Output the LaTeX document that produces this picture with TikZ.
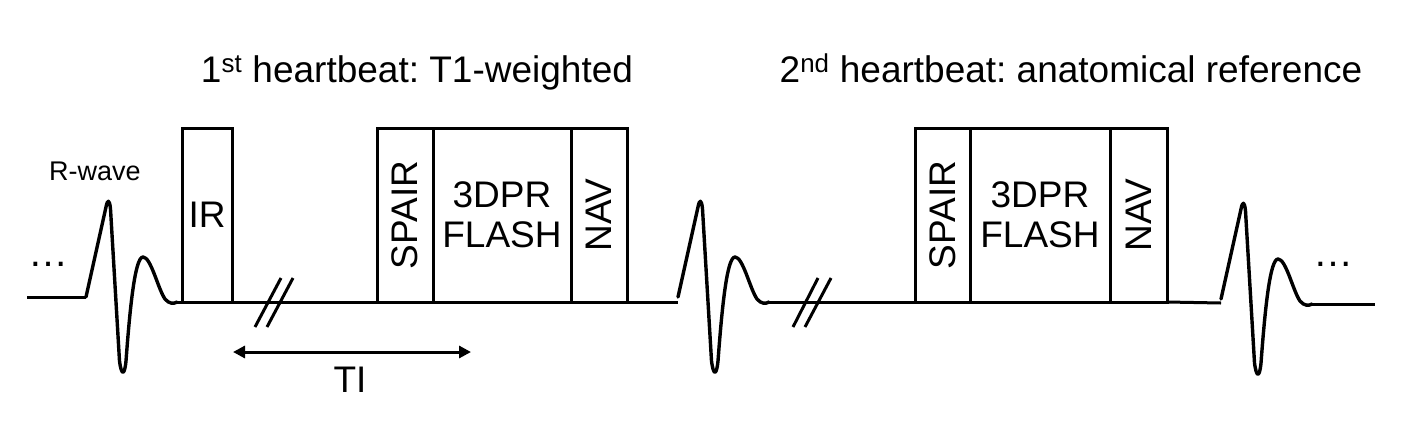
\documentclass[tikz,border=0pt]{standalone}
\usepackage{fontspec}
\setmainfont{Liberation Sans}
\usetikzlibrary{arrows.meta}
\begin{document}
\frenchspacing
\begin{tikzpicture}[x=1pt,y=-1pt,
  wire/.style={line width=3pt},
  seqbox/.style={draw, line width=3pt, minimum height=174pt, inner sep=0pt, outer sep=0pt, anchor=south west},
  boxtext/.style={font=\fontsize{37}{40}\selectfont, inner sep=0pt, align=center},
  title/.style={font=\fontsize{37}{40}\selectfont, inner sep=0pt, anchor=base},
  dots/.style={font=\fontsize{40}{44}\selectfont, inner sep=0pt, anchor=base},
  ecg/.pic={
    \draw[line width=3.4pt, line join=round, line cap=round]
      (0,0) -- (20,-90) .. controls (21.5,-98) and (23.5,-98) .. (24.5,-88)
      -- (33.5,64) .. controls (35.5,79) and (38.5,79) .. (40,64)
      .. controls (44,10) and (49,-40) .. (57,-40)
      .. controls (65,-40) and (72,-8) .. (79,2)
      .. controls (83,7) and (88,7) .. (91,5);
  }
]
\useasboundingbox (0,0) rectangle (1415,426);

% titles
\node[title] (t1) at (417,82) {1\textsuperscript{st} heartbeat: T1-weighted};
\node[title] (t2) at (1071,82) {2\textsuperscript{nd} heartbeat: anatomical reference};

% R-wave label and dots
\node[font=\fontsize{27}{30}\selectfont, inner sep=0pt, anchor=base] (rw) at (95,180) {R-wave};
\node[dots] (d1) at (48,266) {…};
\node[dots] (d2) at (1333,266) {…};

% boxes, 1st heartbeat
\node[seqbox, minimum width=50pt] (ir) at (182,302) {};
\node[boxtext] (irt) at (ir.center) {IR};
\node[seqbox, minimum width=56pt] (sp1) at (377,302) {};
\node[seqbox, minimum width=138pt] (fl1) at (sp1.south east) {};
\node[seqbox, minimum width=56pt] (nv1) at (fl1.south east) {};
\node[boxtext, rotate=90] (sp1t) at (sp1.center) {SPAIR};
\node[boxtext] (fl1t) at (fl1.center) {3DPR\\FLASH};
\node[boxtext, rotate=90] (nv1t) at (nv1.center) {NAV};

% boxes, 2nd heartbeat
\node[seqbox, minimum width=55pt] (sp2) at (915,302) {};
\node[seqbox, minimum width=140pt] (fl2) at (sp2.south east) {};
\node[seqbox, minimum width=57pt] (nv2) at (fl2.south east) {};
\node[boxtext, rotate=90] (sp2t) at (sp2.center) {SPAIR};
\node[boxtext] (fl2t) at (fl2.center) {3DPR\\FLASH};
\node[boxtext, rotate=90] (nv2t) at (nv2.center) {NAV};

% ECG waves
\coordinate (e1) at (86,297);
\coordinate (e1end) at (177,302);
\coordinate (e2) at (678,297);
\coordinate (e2end) at (769,302);
\coordinate (e3) at (1221,299);
\coordinate (e3end) at (1312,304);
\pic at (e1) {ecg};
\pic at (e2) {ecg};
\pic at (e3) {ecg};

% baseline segments
\coordinate (l0) at (27,297);
\coordinate (b2) at (678,302);
\coordinate (b3) at (1221,303);
\coordinate (rend) at (1375,304);
\draw[wire] (l0) -- (e1);
\draw[wire] (e1end) -- (ir.south west);
\draw[wire] (ir.south east) -- (sp1.south west);
\draw[wire] (nv1.south east) -- (b2);
\draw[wire] (e2end) -- (sp2.south west);
\draw[wire] (nv2.south east) -- (b3);
\draw[wire] (e3end) -- (rend);

% break marks
\coordinate (s1a) at (255,327); \coordinate (s1b) at (281,278);
\coordinate (s2a) at (267,327); \coordinate (s2b) at (293,278);
\coordinate (s3a) at (793,327); \coordinate (s3b) at (818,278);
\coordinate (s4a) at (805,327); \coordinate (s4b) at (831,278);
\draw[wire] (s1a) -- (s1b);
\draw[wire] (s2a) -- (s2b);
\draw[wire] (s3a) -- (s3b);
\draw[wire] (s4a) -- (s4b);

% TI arrow
\coordinate (tiL) at (233,352);
\coordinate (tiR) at (471,352);
\draw[wire, {Triangle[length=12pt,width=12pt]}-{Triangle[length=12pt,width=12pt]}] (tiL) -- (tiR);
\node[boxtext, anchor=base] (ti) at (350,392) {TI};
\end{tikzpicture}
\end{document}
